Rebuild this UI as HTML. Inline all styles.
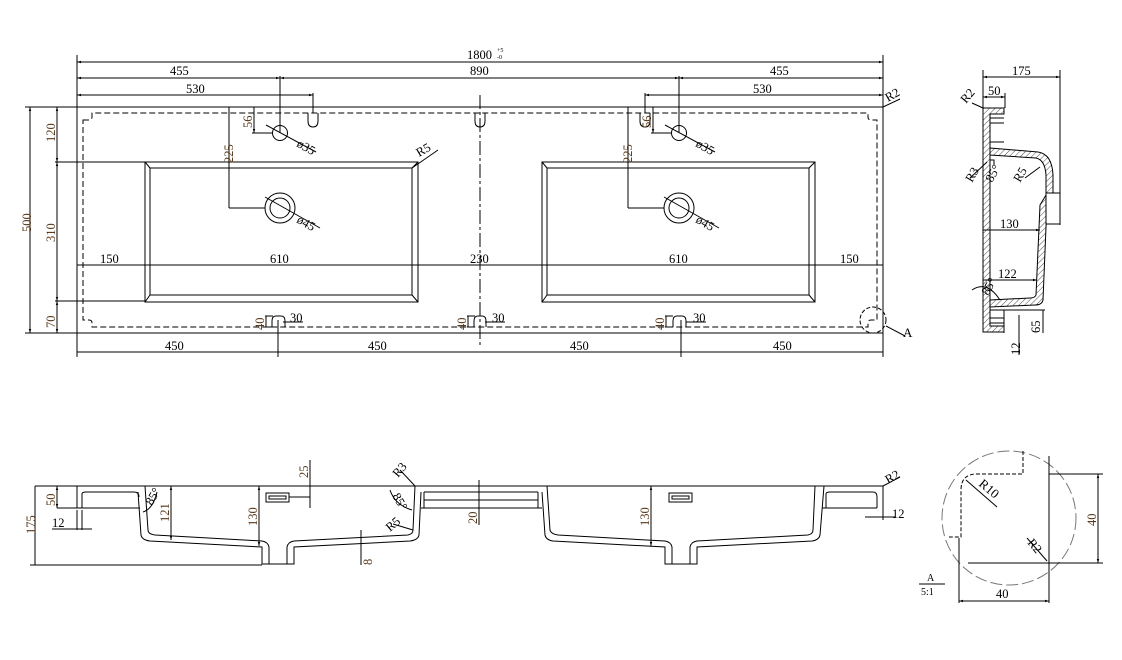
<!DOCTYPE html>
<html><head><meta charset="utf-8"><style>
html,body{margin:0;padding:0;background:#fff;}
svg{display:block;}
text{font-family:"Liberation Serif",serif;font-size:12.5px;fill:#000;}
.b{fill:#5a3a1a;}
</style></head><body>
<svg width="1122" height="660" viewBox="0 0 1122 660" xmlns="http://www.w3.org/2000/svg">
<defs>
<marker id="a" viewBox="0 0 10 10" refX="10" refY="5" markerWidth="6" markerHeight="4" orient="auto-start-reverse"><path d="M0,2 L10,5 L0,8z" fill="#000"/></marker>
<pattern id="h" width="4" height="4" patternUnits="userSpaceOnUse" patternTransform="rotate(45)"><line x1="0" y1="0" x2="0" y2="4" stroke="#000" stroke-width="0.7"/></pattern>
</defs>
<g stroke="#000" fill="none" stroke-width="1">
<!-- TOP VIEW -->
<rect x="77" y="107" width="806" height="226"/>
<path d="M83,120 h6 q3,0 3,-3 v-4 H868 v4 q0,3 3,3 h6 V320 h-6 q-3,0 -3,3 v4 H92 v-4 q0,-3 -3,-3 h-6 Z" stroke-dasharray="6,3"/>
<line x1="480" y1="95" x2="480" y2="345" stroke-dasharray="14,3,3,3"/>
<path d="M308,113 v8 q0,6 5,6 q5,0 5,-6 v-8"/>
<path d="M475,113 v8 q0,6 5,6 q5,0 5,-6 v-8"/>
<path d="M640,113 v8 q0,6 5,6 q5,0 5,-6 v-8"/>
<path d="M272,327 v-6 q0,-5 4,-5 h5 q4,0 4,5 v6"/>
<path d="M474,327 v-6 q0,-5 4,-5 h4 q4,0 4,5 v6"/>
<path d="M673,327 v-6 q0,-5 4,-5 h5 q4,0 4,5 v6"/>
<rect x="145" y="162" width="273" height="140"/>
<rect x="150" y="168" width="262" height="127"/>
<path d="M145,162 l5,6 M418,162 l-6,6 M145,302 l5,-7 M418,302 l-6,-7"/>
<rect x="542" y="162" width="273" height="140"/>
<rect x="547" y="168" width="262" height="127"/>
<path d="M542,162 l5,6 M815,162 l-6,6 M542,302 l5,-7 M815,302 l-6,-7"/>
<circle cx="280" cy="133" r="7.5"/><circle cx="679" cy="133" r="7.5"/>
<circle cx="280" cy="208" r="15"/><circle cx="280" cy="208" r="10"/>
<circle cx="679" cy="208" r="15"/><circle cx="679" cy="208" r="10"/>
<circle cx="873" cy="320" r="13" stroke-dasharray="4,2"/>
<path d="M886,326 L905,336"/>
<line x1="77" y1="55" x2="77" y2="107"/><line x1="883" y1="55" x2="883" y2="107"/>
<line x1="77" y1="62" x2="883" y2="62" marker-start="url(#a)" marker-end="url(#a)"/>
<line x1="77" y1="78" x2="280" y2="78" marker-start="url(#a)" marker-end="url(#a)"/>
<line x1="280" y1="78" x2="679" y2="78" marker-start="url(#a)" marker-end="url(#a)"/>
<line x1="679" y1="78" x2="883" y2="78" marker-start="url(#a)" marker-end="url(#a)"/>
<line x1="280" y1="76" x2="280" y2="133"/><line x1="679" y1="76" x2="679" y2="133"/>
<line x1="77" y1="95" x2="313" y2="95" marker-start="url(#a)" marker-end="url(#a)"/>
<line x1="313" y1="93" x2="313" y2="113"/>
<line x1="645" y1="95" x2="883" y2="95" marker-start="url(#a)" marker-end="url(#a)"/>
<line x1="645" y1="93" x2="645" y2="113"/>
<line x1="883" y1="107" x2="900" y2="99"/>
<line x1="254" y1="107" x2="254" y2="133" marker-end="url(#a)"/><line x1="252" y1="133" x2="273" y2="133"/>
<line x1="229" y1="107" x2="229" y2="208"/><line x1="229" y1="208" x2="265" y2="208"/>
<line x1="653" y1="107" x2="653" y2="133" marker-end="url(#a)"/><line x1="651" y1="133" x2="672" y2="133"/>
<line x1="628" y1="107" x2="628" y2="208"/><line x1="628" y1="208" x2="664" y2="208"/>
<line x1="266" y1="125" x2="316" y2="152"/><line x1="665" y1="125" x2="715" y2="152"/>
<line x1="265" y1="197" x2="320" y2="228"/><line x1="664" y1="197" x2="719" y2="228"/>
<line x1="412" y1="168" x2="438" y2="150"/>
<line x1="77" y1="265" x2="883" y2="265"/>
<line x1="25" y1="107" x2="77" y2="107"/><line x1="25" y1="333" x2="77" y2="333"/>
<line x1="30" y1="107" x2="30" y2="333" marker-start="url(#a)" marker-end="url(#a)"/>
<line x1="55" y1="162" x2="145" y2="162"/><line x1="55" y1="301" x2="145" y2="301"/>
<line x1="57" y1="107" x2="57" y2="162" marker-start="url(#a)" marker-end="url(#a)"/>
<line x1="57" y1="162" x2="57" y2="301" marker-start="url(#a)" marker-end="url(#a)"/>
<line x1="57" y1="301" x2="57" y2="333" marker-start="url(#a)" marker-end="url(#a)"/>
<line x1="77" y1="333" x2="77" y2="357"/><line x1="883" y1="333" x2="883" y2="357"/>
<line x1="278" y1="320" x2="278" y2="357"/><line x1="681" y1="320" x2="681" y2="357"/>
<line x1="77" y1="352" x2="883" y2="352"/>
<path d="M265,316 h8 M265,327 h8 M266,316 v11 M283,322 h20 M467,316 h8 M467,327 h8 M468,316 v11 M485,322 h20 M665,316 h8 M665,327 h8 M666,316 v11 M686,322 h20"/>
<!-- SIDE VIEW -->
<line x1="983" y1="70" x2="983" y2="108"/><line x1="1060" y1="70" x2="1060" y2="225"/>
<line x1="983" y1="77" x2="1060" y2="77" marker-start="url(#a)" marker-end="url(#a)"/>
<line x1="983" y1="97" x2="1005" y2="97" marker-start="url(#a)" marker-end="url(#a)"/><line x1="1005" y1="93" x2="1005" y2="108"/>
<path d="M983,108 H1004 V114 H990 V326 H1004 V332 H983 Z" fill="url(#h)"/>
<path d="M990,114 V142 H1004 M990,310 H1004"/>
<path d="M990,148 L1038,152 Q1052,154 1053,175 L1053,200 L1047,203 L1043,300 Q1042,305 1035,305 L990,307 L990,300 L1030,298 Q1035,298 1036,295 L1040,205 L1046,195 L1046,175 Q1045,160 1036,158 L990,155 Z" fill="url(#h)"/>
<path d="M990,118 h14 M990,123 h14 M990,318 h14 M990,323 h14 M990,160 h4 v5"/>
<rect x="1046" y="193" width="14" height="31" fill="#fff"/>
<line x1="983" y1="230" x2="1040" y2="230" marker-end="url(#a)"/>
<line x1="983" y1="280" x2="1037" y2="280" marker-end="url(#a)"/>
<path d="M972,290 q15,-10 28,10"/>
<path d="M1004,310 V333 M1004,310 H1045 M1043,310 V333 M1019,315 V355"/>
<line x1="972" y1="103" x2="983" y2="108"/><line x1="970" y1="178" x2="987" y2="162"/>
<line x1="1025" y1="178" x2="1040" y2="167"/>
<!-- FRONT VIEW -->
<line x1="35" y1="486" x2="883" y2="486"/>
<path d="M77,486 V508 H140 M82,508 V494 Q82,492 86,492 H134 Q139,492 139,497"/>
<path d="M138,492 L141,535 Q142,540 150,541 L262,547 V564 H294 V547 L410,541 Q418,540 419,535 L421,492"/>
<path d="M145,486 L148,530 Q148,534 155,535 L262,541 Q268,542 269,547 V564 M287,564 V547 Q288,542 294,541 L408,535 Q413,534 413,530 L415,486"/>
<path d="M421,508 H542 M424,492 H538 M424,500 H538 M424,492 V508 M538,492 V508"/>
<path d="M542,492 L545,535 Q546,540 553,541 L665,547 V564 H697 V547 L812,541 Q819,540 820,535 L824,486"/>
<path d="M547,486 L550,530 Q551,534 558,535 L665,541 Q671,542 672,547 V564 M690,564 V547 Q691,542 697,541 L808,535 Q813,534 813,530 L815,486"/>
<path d="M822,508 H877 M826,508 V494 Q826,492 830,492 H873 Q877,492 877,497 V508 M883,486 V520"/>
<rect x="266" y="493" width="23" height="9"/><rect x="269" y="496" width="17" height="3"/>
<rect x="669" y="493" width="23" height="9"/><rect x="672" y="496" width="17" height="3"/>
<line x1="289" y1="497" x2="310" y2="497"/><line x1="310" y1="460" x2="310" y2="508"/>
<line x1="35" y1="486" x2="35" y2="565"/><line x1="30" y1="565" x2="262" y2="565"/>
<line x1="57" y1="486" x2="57" y2="508" marker-start="url(#a)" marker-end="url(#a)"/>
<line x1="57" y1="508" x2="77" y2="508"/>
<line x1="52" y1="529" x2="92" y2="529"/><line x1="77" y1="510" x2="77" y2="530"/><line x1="82" y1="510" x2="82" y2="530"/>
<line x1="171" y1="486" x2="171" y2="540" marker-start="url(#a)" marker-end="url(#a)"/>
<line x1="259" y1="486" x2="259" y2="546" marker-start="url(#a)" marker-end="url(#a)"/>
<line x1="651" y1="486" x2="651" y2="546" marker-start="url(#a)" marker-end="url(#a)"/>
<line x1="479" y1="480" x2="479" y2="525"/>
<line x1="361" y1="530" x2="361" y2="565"/>
<line x1="415" y1="486" x2="400" y2="470"/><line x1="413" y1="530" x2="393" y2="524"/>
<path d="M143,512 q10,-3 14,-20 M390,490 q5,15 22,20"/>
<line x1="883" y1="486" x2="900" y2="477"/>
<line x1="865" y1="517" x2="895" y2="517"/>
<!-- DETAIL A -->
<circle cx="1009" cy="518" r="67" stroke="#777" stroke-dasharray="12,4"/>
<path d="M1023,451 V474 H977 Q961,474 961,490 V537 H949" stroke-dasharray="4,2"/>
<path d="M1049,456 V603 M968,563 H1103 M1049,474 H1103 M959,538 V603"/>
<line x1="1098" y1="474" x2="1098" y2="563" marker-start="url(#a)" marker-end="url(#a)"/>
<line x1="959" y1="601" x2="1049" y2="601" marker-start="url(#a)" marker-end="url(#a)"/>
<line x1="966" y1="480" x2="997" y2="507"/><line x1="1027" y1="538" x2="1047" y2="561"/>
<line x1="919" y1="584" x2="945" y2="584"/>
</g>
<g>
<text x="467" y="59">1800</text><text x="497" y="52" style="font-size:6px">+5</text><text x="497" y="59" style="font-size:6px">-0</text>
<text x="170" y="75">455</text><text x="470" y="75">890</text><text x="770" y="75">455</text>
<text x="186" y="93">530</text><text x="753" y="93">530</text>
<text x="888" y="102" transform="rotate(-30 888 102)">R2</text>
<text x="419" y="157" transform="rotate(-30 419 157)">R5</text>
<text x="296" y="146" transform="rotate(30 296 146)">ø35</text>
<text x="695" y="146" transform="rotate(30 695 146)">ø35</text>
<text x="296" y="222" transform="rotate(30 296 222)">ø45</text>
<text x="695" y="222" transform="rotate(30 695 222)">ø45</text>
<text class="b" x="252" y="128" transform="rotate(-90 252 128)">56</text>
<text class="b" x="651" y="128" transform="rotate(-90 651 128)">56</text>
<text class="b" x="233" y="163" transform="rotate(-90 233 163)">225</text>
<text class="b" x="632" y="163" transform="rotate(-90 632 163)">225</text>
<text x="100" y="263">150</text><text x="270" y="263">610</text><text x="470" y="263">230</text><text x="669" y="263">610</text><text x="840" y="263">150</text>
<text class="b" x="31" y="232" transform="rotate(-90 31 232)">500</text>
<text class="b" x="55" y="142" transform="rotate(-90 55 142)">120</text>
<text class="b" x="55" y="242" transform="rotate(-90 55 242)">310</text>
<text class="b" x="55" y="328" transform="rotate(-90 55 328)">70</text>
<text x="165" y="350">450</text><text x="368" y="350">450</text><text x="570" y="350">450</text><text x="773" y="350">450</text>
<text x="290" y="322">30</text><text x="492" y="322">30</text><text x="693" y="322">30</text>
<text class="b" x="264" y="330" transform="rotate(-90 264 330)">40</text>
<text class="b" x="466" y="330" transform="rotate(-90 466 330)">40</text>
<text class="b" x="664" y="330" transform="rotate(-90 664 330)">40</text>
<text x="903" y="337" style="font-size:13px">A</text>
<text x="1012" y="75">175</text><text x="988" y="95">50</text>
<text x="966" y="104" transform="rotate(-50 966 104)">R2</text>
<text x="972" y="183" transform="rotate(-60 972 183)">R3</text>
<text x="992" y="183" transform="rotate(-60 992 183)">85°</text>
<text x="1020" y="183" transform="rotate(-60 1020 183)">R5</text>
<text x="1000" y="228">130</text><text x="998" y="278">122</text>
<text x="988" y="296" transform="rotate(-60 988 296)">85°</text>
<text x="1040" y="333" transform="rotate(-90 1040 333)">65</text>
<text x="1020" y="355" transform="rotate(-90 1020 355)">12</text>
<text class="b" x="55" y="506" transform="rotate(-90 55 506)">50</text>
<text class="b" x="35" y="534" transform="rotate(-90 35 534)">175</text>
<text x="52" y="527">12</text>
<text x="152" y="506" transform="rotate(-60 152 506)">85°</text>
<text class="b" x="169" y="522" transform="rotate(-90 169 522)">121</text>
<text class="b" x="257" y="526" transform="rotate(-90 257 526)">130</text>
<text class="b" x="649" y="526" transform="rotate(-90 649 526)">130</text>
<text class="b" x="308" y="478" transform="rotate(-90 308 478)">25</text>
<text class="b" x="477" y="524" transform="rotate(-90 477 524)">20</text>
<text class="b" x="372" y="565" transform="rotate(-90 372 565)">8</text>
<text x="398" y="478" transform="rotate(-50 398 478)">R3</text>
<text x="392" y="496" transform="rotate(60 392 496)">85°</text>
<text x="390" y="532" transform="rotate(-40 390 532)">R5</text>
<text x="888" y="484" transform="rotate(-30 888 484)">R2</text>
<text x="892" y="518">12</text>
<text x="978" y="485" transform="rotate(40 978 485)" style="font-size:13px">R10</text>
<text x="1027" y="543" transform="rotate(50 1027 543)">R2</text>
<text class="b" x="1096" y="526" transform="rotate(-90 1096 526)">40</text>
<text x="996" y="598">40</text>
<text x="927" y="581" style="font-size:10px">A</text>
<text x="921" y="595" style="font-size:10px">5:1</text>
</g>
</svg>
</body></html>
